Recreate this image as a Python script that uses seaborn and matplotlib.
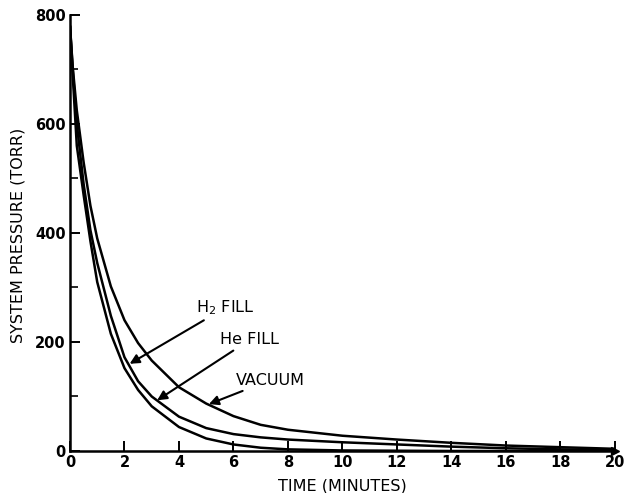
import numpy as np
import pandas as pd
import matplotlib
matplotlib.use("Agg")
import matplotlib.pyplot as plt
from matplotlib.ticker import MultipleLocator
import seaborn as sns

# ---- data ----
time_min = [0, 0.1, 0.25, 0.5, 0.75, 1.0, 1.5, 2.0, 2.5, 3.0, 4.0, 5.0, 6.0,
            7.0, 8.0, 10, 12, 14, 16, 18, 20]
h2_fill = [780, 690, 560, 470, 385, 310, 215, 152, 112, 82, 44, 23, 12,
           6, 3, 1, 0.5, 0, 0, 0, 0]
he_fill = [780, 700, 600, 490, 405, 345, 248, 172, 128, 100, 63, 42, 31,
           25, 21, 16, 12, 8, 5, 3, 2]
vacuum = [780, 705, 625, 530, 450, 390, 302, 240, 198, 166, 117, 87, 64,
          48, 39, 28, 21, 15, 10, 7, 4]

x_ticks = list(range(0, 21, 2))
y_ticks = [0, 200, 400, 600, 800]

df = pd.concat([
    pd.DataFrame({"time": time_min, "pressure": h2_fill, "series": "H2 FILL"}),
    pd.DataFrame({"time": time_min, "pressure": he_fill, "series": "He FILL"}),
    pd.DataFrame({"time": time_min, "pressure": vacuum, "series": "VACUUM"}),
])

sns.set_style("ticks")
plt.rcParams["font.family"] = ["DejaVu Sans"]
plt.rcParams["text.color"] = "black"
plt.rcParams["axes.labelcolor"] = "black"
plt.rcParams["xtick.color"] = "black"
plt.rcParams["ytick.color"] = "black"

fig = plt.figure(figsize=(6.26, 4.93), dpi=100)
ax = fig.add_axes([0.1118, 0.0852, 0.8705, 0.8844])

sns.lineplot(data=df, x="time", y="pressure", hue="series",
             palette=["black", "black", "black"], linewidth=1.8,
             legend=False, ax=ax, estimator=None, sort=False)

ax.set_xlim(0, 20)
ax.set_ylim(0, 800)
ax.set_xticks(x_ticks)
ax.set_yticks(y_ticks)
ax.yaxis.set_minor_locator(MultipleLocator(100))

sns.despine(ax=ax)
for s in ("left", "bottom"):
    ax.spines[s].set_linewidth(1.8)
    ax.spines[s].set_color("black")

ax.tick_params(axis="both", which="major", direction="in", length=7,
               width=1.4, colors="black", labelcolor="black",
               labelsize=10.5, pad=3)
ax.tick_params(axis="y", which="minor", direction="in", length=6, width=1.2,
               colors="black")
for lab in ax.get_xticklabels() + ax.get_yticklabels():
    lab.set_fontweight("bold")

# arrow at end of time axis
ax.plot([1.0], [0.0], marker=">", markersize=6, color="black",
        transform=ax.transAxes, clip_on=False)

ax.set_xlabel("TIME (MINUTES)", fontsize=11.5, labelpad=6, color="black")
ax.set_ylabel("SYSTEM PRESSURE (TORR)", fontsize=11.5, color="black")
ax.yaxis.set_label_coords(-0.082, 0.495)

arrow_kw = dict(arrowstyle="-|>", color="black", lw=1.5, mutation_scale=14,
                shrinkA=0, shrinkB=0)
ax.annotate("H$_2$ FILL", xy=(2.19, 160), xytext=(4.63, 263), fontsize=11.5,
            ha="left", va="center", color="black", arrowprops=arrow_kw)
ax.annotate("He FILL", xy=(3.2, 93), xytext=(5.52, 204), fontsize=11.5,
            ha="left", va="center", color="black", arrowprops=arrow_kw)
ax.annotate("VACUUM", xy=(5.1, 86), xytext=(6.08, 130), fontsize=11.5,
            ha="left", va="center", color="black", arrowprops=arrow_kw)

fig.savefig("out.png", dpi=100)
